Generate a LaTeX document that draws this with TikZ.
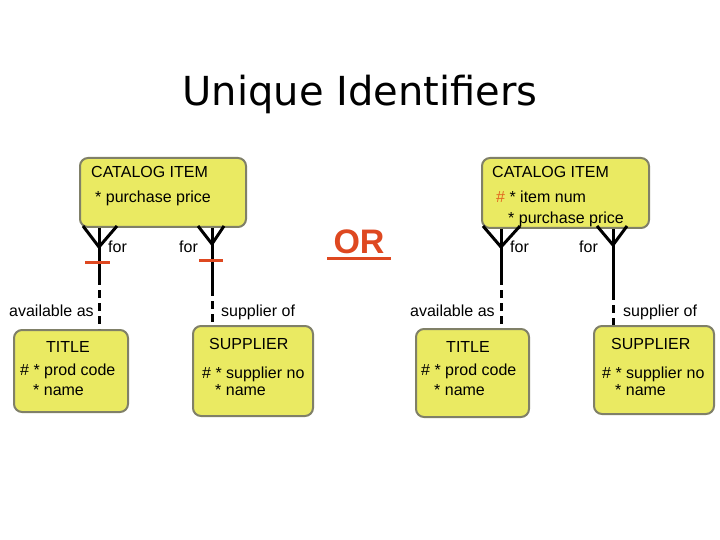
\documentclass[tikz,border=0pt]{standalone}
\usepackage{fontspec}
\setmainfont{Liberation Sans}
\newfontfamily\headfont{DejaVu Sans}
\usetikzlibrary{calc}

\definecolor{entyellow}{RGB}{234,234,98}
\definecolor{entborder}{RGB}{128,128,104}
\definecolor{orred}{RGB}{222,72,32}
\definecolor{hashorange}{RGB}{226,100,30}

\tikzset{
    entity/.style={draw=entborder, line width=2pt, fill=entyellow, rounded corners=8pt, inner sep=0pt, anchor=north west},
    attr/.style={anchor=base west, inner sep=0pt, font=\fontsize{16}{19}\selectfont},
    rel/.style={line width=3pt},
    opt/.style={line width=3pt, dash pattern=on 8pt off 5pt},
    bar/.style={orred, line width=3pt},
}

\begin{document}
\begin{tikzpicture}[x=1pt, y=-1pt]
    \useasboundingbox (0,0) rectangle (720,540);

    \node[anchor=base, inner sep=0pt, font=\headfont\fontsize{40}{46}\selectfont] (title) at (360,106) {Unique Identifiers};

    % left version
    \node[entity, minimum width=166, minimum height=69] (cat1) at (79,157) {};
    \node[attr] (cat1n) at (91,178) {CATALOG ITEM};
    \node[attr] (cat1a) at (95,203) {* purchase price};

    \node[entity, minimum width=114, minimum height=82] (tit1) at (13,329) {};
    \node[attr, anchor=base] (tit1n) at (68,352) {TITLE};
    \node[attr] (tit1a) at (20,375) {\# * prod code};
    \node[attr] (tit1b) at (33,395) {* name};

    \node[entity, minimum width=120, minimum height=90] (sup1) at (192,325) {};
    \node[attr] (sup1n) at (209,349) {SUPPLIER};
    \node[attr] (sup1a) at (202,378) {\# * supplier no};
    \node[attr] (sup1b) at (215,395) {* name};

    \coordinate (f1) at (99,247);
    \coordinate (m1) at (99,277);
    \coordinate (f2) at (212,244);
    \coordinate (m2) at (212,288);

    \draw[rel] (f1) ++(-16,-21) -- (f1) -- ++(18,-21);
    \draw[rel] (cat1.south -| f1) -- (m1);
    \draw[opt] (m1) -- (tit1.north -| f1);
    \draw[bar] ($(f1)+(-14,15)$) -- ++(25,0);

    \draw[rel] (f2) ++(-14,-18) -- (f2) -- ++(12,-18);
    \draw[rel] (cat1.south -| f2) -- (m2);
    \draw[opt] (m2) -- (sup1.north -| f2);
    \draw[bar] ($(f2)+(-13,16)$) -- ++(24,0);

    \node[attr] (for1) at (108,252) {for};
    \node[attr] (for2) at (179,252) {for};
    \node[attr] (av1) at (9,316) {available as};
    \node[attr] (so1) at (221,316) {supplier of};

    % OR
    \node[anchor=base, inner xsep=6pt, inner ysep=0pt, text=orred, font=\bfseries\fontsize{34}{40}\selectfont] (or) at (359,253) {OR};
    \draw[orred, line width=3pt] ([yshift=-5pt]or.base west) -- ([yshift=-5pt]or.base east);

    % right version
    \node[entity, minimum width=167, minimum height=70] (cat2) at (481,157) {};
    \node[attr] (cat2n) at (492,178) {CATALOG ITEM};
    \node[attr] (cat2a) at (496,203) {\textcolor{hashorange}{\#} * item num};
    \node[attr] (cat2b) at (508,223) {* purchase price};

    \node[entity, minimum width=113, minimum height=88] (tit2) at (415,328) {};
    \node[attr, anchor=base] (tit2n) at (468,352) {TITLE};
    \node[attr] (tit2a) at (421,375) {\# * prod code};
    \node[attr] (tit2b) at (434,395) {* name};

    \node[entity, minimum width=120, minimum height=88] (sup2) at (593,325) {};
    \node[attr] (sup2n) at (611,349) {SUPPLIER};
    \node[attr] (sup2a) at (602,378) {\# * supplier no};
    \node[attr] (sup2b) at (615,395) {* name};

    \coordinate (f3) at (501,247);
    \coordinate (m3) at (501,277);
    \coordinate (f4) at (613,245);
    \coordinate (m4) at (613,292);

    \draw[rel] (f3) ++(-18,-21) -- (f3) -- ++(19,-21);
    \draw[rel] (cat2.south -| f3) -- (m3);
    \draw[opt] (m3) -- (tit2.north -| f3);

    \draw[rel] (f4) ++(-16,-19) -- (f4) -- ++(14,-19);
    \draw[rel] (cat2.south -| f4) -- (m4);
    \draw[opt] (m4) -- (sup2.north -| f4);

    \node[attr] (for3) at (510,252) {for};
    \node[attr] (for4) at (579,252) {for};
    \node[attr] (av2) at (410,316) {available as};
    \node[attr] (so2) at (623,316) {supplier of};
\end{tikzpicture}
\end{document}
